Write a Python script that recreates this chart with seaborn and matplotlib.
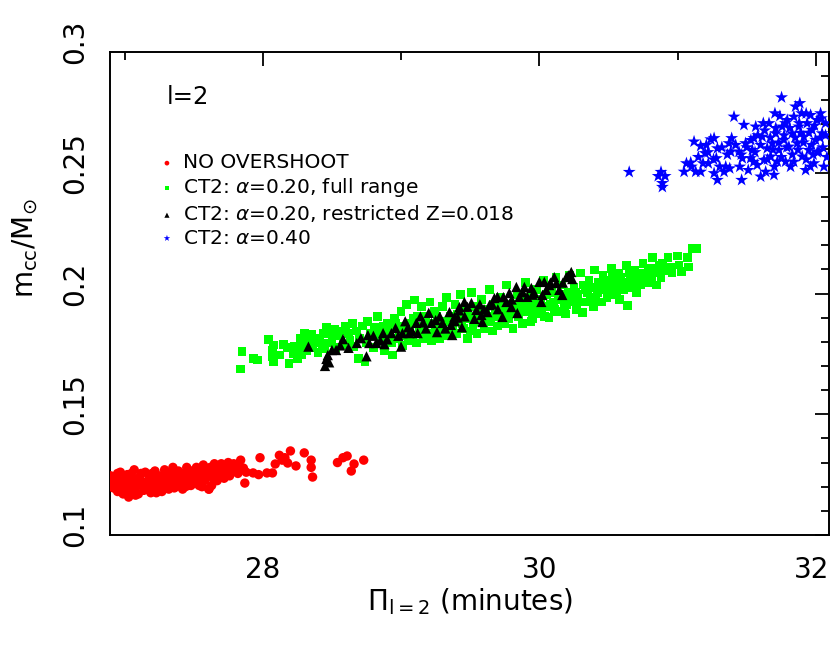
import matplotlib
matplotlib.use("Agg")
import matplotlib.pyplot as plt
import matplotlib.transforms as mtransforms
from matplotlib.ticker import MultipleLocator, FixedLocator
import seaborn as sns
import pandas as pd

# ---------------- data ----------------
red_x = [26.91, 26.92, 26.93, 26.94, 26.95, 26.96, 26.97, 26.98, 26.99, 27.00, 27.01, 27.02, 27.03, 27.04,
         27.05, 27.06, 27.07, 27.08, 27.09, 27.10, 27.11, 27.12, 27.13, 27.14, 27.15, 27.16, 27.17, 27.18,
         27.19, 27.20, 27.21, 27.22, 27.23, 27.24, 27.25, 27.26, 27.27, 27.28, 27.29, 27.30, 27.31, 27.32,
         27.33, 27.34, 27.35, 27.36, 27.37, 27.38, 27.39, 27.40, 27.41, 27.42, 27.43, 27.44, 27.45, 27.46,
         27.47, 27.48, 27.49, 27.50, 27.51, 27.52, 27.53, 27.54, 27.55, 27.56, 27.57, 27.58, 27.59, 27.60,
         27.61, 27.62, 27.63, 27.64, 27.65, 27.66, 27.67, 27.68, 27.69, 27.70, 27.71, 27.72, 27.73, 27.74,
         27.75, 27.76, 27.77, 27.78, 27.80, 27.82, 27.84, 27.86, 27.87, 27.88, 27.93, 27.97, 27.98, 28.03,
         28.07, 28.09, 28.12, 28.14, 28.16, 28.18, 28.20, 28.24, 28.30, 28.35, 28.35, 28.36, 28.54, 28.58,
         28.61, 28.64, 28.66, 28.73,
         26.90, 26.95, 27.00, 27.02, 27.05, 27.08, 27.10, 27.12, 27.15, 27.18, 27.20, 27.23, 27.25, 27.28,
         27.30, 27.33, 27.36, 27.38, 27.40, 27.43, 27.46, 27.48, 27.50, 27.53, 27.55, 27.58, 27.60, 27.63,
         27.66, 27.70, 27.72, 27.75, 27.79, 27.81, 27.44, 27.56, 27.61]
red_y = [0.1220, 0.1195, 0.1240, 0.1210, 0.1180, 0.1225, 0.1260, 0.1205, 0.1170, 0.1230, 0.1195, 0.1250, 0.1157, 0.1210,
         0.1185, 0.1235, 0.1270, 0.1200, 0.1225, 0.1170, 0.1240, 0.1205, 0.1220, 0.1185, 0.1260, 0.1215, 0.1195, 0.1240,
         0.1175, 0.1225, 0.1205, 0.1265, 0.1235, 0.1190, 0.1215, 0.1245, 0.1180, 0.1225, 0.1270, 0.1205, 0.1235, 0.1190,
         0.1250, 0.1215, 0.1280, 0.1225, 0.1200, 0.1245, 0.1265, 0.1215, 0.1235, 0.1190, 0.1255, 0.1225, 0.1280, 0.1205,
         0.1245, 0.1265, 0.1230, 0.1215, 0.1250, 0.1280, 0.1235, 0.1205, 0.1260, 0.1245, 0.1290, 0.1225, 0.1265, 0.1245,
         0.1190, 0.1280, 0.1255, 0.1235, 0.1295, 0.1265, 0.1225, 0.1275, 0.1245, 0.1295, 0.1260, 0.1235, 0.1285, 0.1265,
         0.1300, 0.1245, 0.1280, 0.1265, 0.1275, 0.1255, 0.1310, 0.1277, 0.1215, 0.1260, 0.1257, 0.1250, 0.1320, 0.1257,
         0.1257, 0.1294, 0.1330, 0.1310, 0.1320, 0.1298, 0.1348, 0.1286, 0.1340, 0.1310, 0.1280, 0.1240, 0.1300, 0.1320,
         0.1327, 0.1265, 0.1294, 0.1310,
         0.1245, 0.1255, 0.1205, 0.1175, 0.1255, 0.1165, 0.1215, 0.1255, 0.1195, 0.1215, 0.1255, 0.1175, 0.1240, 0.1200,
         0.1260, 0.1225, 0.1195, 0.1220, 0.1255, 0.1215, 0.1265, 0.1205, 0.1245, 0.1275, 0.1225, 0.1255, 0.1275, 0.1205,
         0.1235, 0.1255, 0.1280, 0.1270, 0.1295, 0.1285, 0.1200, 0.1200, 0.1190]

green_x = [27.84, 27.85, 27.93, 27.96, 28.04, 28.08, 28.07, 28.07, 28.08, 28.18, 28.23, 28.25, 28.22, 28.19,
           28.29, 28.35, 28.41, 28.43, 28.45, 28.46, 28.49, 28.52, 28.32, 28.38, 28.40, 28.28, 28.55, 28.57,
           28.58, 28.60, 28.62, 28.63, 28.65, 28.66, 28.68, 28.69, 28.70, 28.72, 28.74, 28.75, 28.76, 28.78,
           28.80, 28.81, 28.83, 28.85, 28.86, 28.88, 28.90, 28.91, 28.93, 28.94, 28.95, 28.97, 28.98, 29.00,
           29.01, 29.03, 29.04, 29.05, 29.07, 29.08, 29.10, 29.11, 29.12, 29.13, 29.15, 29.16, 29.18, 29.19,
           29.21, 29.22, 29.24, 29.25, 29.27, 29.28, 29.30, 29.31, 29.33, 29.34, 29.36, 29.37, 29.39, 29.40,
           29.42, 29.43, 29.45, 29.46, 29.48, 29.49, 29.51, 29.52, 29.54, 29.55, 29.57, 29.58, 29.60, 29.61,
           29.63, 29.64, 29.66, 29.67, 29.69, 29.70, 29.72, 29.73, 29.75, 29.76, 29.78, 29.79, 29.81, 29.82,
           29.84, 29.85, 29.87, 29.88, 29.90, 29.91, 29.93, 29.94, 29.95, 29.97, 29.98, 30.00, 30.01, 30.03,
           30.04, 30.06, 30.07, 30.09, 30.10, 30.12, 30.13, 30.15, 30.16, 30.18, 30.19, 30.21, 30.22, 30.24,
           30.25, 30.27, 30.28, 30.30, 30.31, 30.33, 30.34, 30.36, 30.37, 30.39, 30.40, 30.42, 30.43, 30.45,
           30.46, 30.48, 30.49, 30.51, 30.52, 30.54, 30.55, 30.57, 30.58, 30.60, 30.61, 30.63, 30.64, 30.66,
           30.67, 30.69, 30.70, 30.72, 30.73, 30.75, 30.76, 30.78, 30.79, 30.81, 30.82, 30.84, 30.85, 30.87,
           30.88, 30.90, 30.93, 30.95, 30.96, 31.01, 31.03, 31.07, 31.08, 31.11, 31.14,
           28.84, 28.87, 28.92, 28.96, 28.99, 29.02, 29.06, 29.09, 29.14, 29.17, 29.20, 29.23, 29.26, 29.29,
           29.32, 29.35, 29.38, 29.41, 29.44, 29.47, 29.50, 29.53, 29.56, 29.59, 29.62, 29.65, 29.68, 29.71,
           29.74, 29.77, 29.80, 29.83, 29.86, 29.89, 29.92, 29.96, 29.99, 30.02, 30.05, 30.08, 30.11, 30.14,
           30.17, 30.20, 30.23, 30.26, 30.29, 30.32, 30.35, 30.38, 30.41, 30.44, 30.47, 30.50, 30.53, 30.56,
           30.59, 30.62, 30.65, 30.68, 30.71, 30.74, 30.77, 30.80, 30.83, 30.86, 30.89, 30.92, 31.00,
           28.12, 28.15, 28.27, 28.30, 28.33, 28.36, 28.44, 28.47, 28.50, 28.53]
green_y = [0.1687, 0.1760, 0.1730, 0.1725, 0.1810, 0.1787, 0.1766, 0.1737, 0.1720, 0.1778, 0.1780, 0.1730, 0.1750, 0.1710,
           0.1780, 0.1830, 0.1816, 0.1790, 0.1770, 0.1860, 0.1849, 0.1853, 0.1765, 0.1795, 0.1755, 0.1745, 0.1825, 0.1845,
           0.1790, 0.1865, 0.1835, 0.1805, 0.1875, 0.1782, 0.1845, 0.1730, 0.1815, 0.1865, 0.1716, 0.1795, 0.1885, 0.1835,
           0.1775, 0.1860, 0.1905, 0.1805, 0.1845, 0.1765, 0.1875, 0.1825, 0.1795, 0.1745, 0.1895, 0.1815, 0.1855, 0.1925,
           0.1785, 0.1835, 0.1955, 0.1805, 0.1875, 0.1825, 0.1973, 0.1795, 0.1905, 0.1845, 0.1945, 0.1815, 0.1885, 0.1835,
           0.1965, 0.1805, 0.1925, 0.1855, 0.1875, 0.1815, 0.1945, 0.1845, 0.1985, 0.1825, 0.1905, 0.1865, 0.1955, 0.1835,
           0.1885, 0.1995, 0.1855, 0.1925, 0.1815, 0.1895, 0.2005, 0.1865, 0.1945, 0.1835, 0.1905, 0.1975, 0.1855, 0.1925,
           0.1885, 0.2015, 0.1845, 0.1955, 0.1905, 0.1865, 0.1985, 0.1925, 0.1875, 0.2035, 0.1895, 0.1955, 0.1855, 0.1935,
           0.1995, 0.1905, 0.1965, 0.1875, 0.2045, 0.1925, 0.1985, 0.1885, 0.1895, 0.1955, 0.2015, 0.1915, 0.1975, 0.2055,
           0.1905, 0.1945, 0.1900, 0.2005, 0.1965, 0.2065, 0.1925, 0.1985, 0.2035, 0.1945, 0.1915, 0.2005, 0.2075, 0.1965,
           0.2025, 0.1935, 0.1995, 0.2085, 0.1920, 0.2015, 0.1965, 0.2055, 0.1985, 0.1945, 0.2097, 0.2005, 0.2045, 0.1965,
           0.2075, 0.2015, 0.1985, 0.2055, 0.2105, 0.1995, 0.2035, 0.2085, 0.1975, 0.2045, 0.2015, 0.2115, 0.1950, 0.2065,
           0.2025, 0.2095, 0.2005, 0.2055, 0.2035, 0.2125, 0.2075, 0.2045, 0.2105, 0.2065, 0.2150, 0.2085, 0.2035, 0.2115,
           0.2065, 0.2095, 0.2150, 0.2110, 0.2085, 0.2118, 0.2090, 0.2150, 0.2110, 0.2185, 0.2185,
           0.1835, 0.1865, 0.1845, 0.1875, 0.1825, 0.1865, 0.1845, 0.1895, 0.1865, 0.1905, 0.1875, 0.1835, 0.1905, 0.1875,
           0.1885, 0.1845, 0.1895, 0.1915, 0.1875, 0.1905, 0.1845, 0.1905, 0.1885, 0.1935, 0.1905, 0.1885, 0.1925, 0.1945,
           0.1895, 0.1935, 0.1915, 0.1955, 0.1935, 0.1975, 0.1955, 0.1925, 0.1965, 0.1935, 0.1995, 0.1955, 0.1935, 0.1975,
           0.1995, 0.1955, 0.1985, 0.2005, 0.1965, 0.2035, 0.2005, 0.2025, 0.1985, 0.2025, 0.2045, 0.2015, 0.2065, 0.2005,
           0.2065, 0.2035, 0.2085, 0.2045, 0.2075, 0.2085, 0.2055, 0.2085, 0.2105, 0.2085, 0.2125, 0.2095, 0.2155,
           0.1745, 0.1790, 0.1815, 0.1835, 0.1805, 0.1775, 0.1835, 0.1795, 0.1815, 0.1775]

black_x = [28.33, 28.45, 28.46, 28.47, 28.48, 28.50, 28.53, 28.58, 28.68, 28.75, 28.76, 28.77, 28.82, 28.87,
           28.88, 28.90, 28.93, 28.96, 29.00, 29.01, 29.05, 29.06, 29.11, 29.12, 29.16, 29.20, 29.22, 29.25,
           29.26, 29.30, 29.35, 29.36, 29.37, 29.41, 29.42, 29.44,
           29.386, 29.422, 29.458, 29.509, 29.545, 29.581, 29.588, 29.624, 29.639, 29.675, 29.697, 29.733,
           29.762, 29.783, 29.798, 29.834, 29.841, 29.856, 29.892, 29.913, 29.942, 29.964, 30.000, 30.014,
           30.022, 30.036, 30.072, 30.108, 30.123, 30.144, 30.166, 30.195, 30.231, 30.238,
           28.98, 29.03, 29.08, 29.14, 29.18, 29.28, 29.32, 29.39, 29.46, 29.48, 29.53, 29.57, 29.60, 29.66,
           29.70, 29.74, 29.80, 29.88, 29.95, 30.05, 30.08, 30.17, 30.21, 28.56, 28.62, 28.71, 28.80, 28.85]
black_y = [0.1780, 0.1700, 0.1729, 0.1745, 0.1715, 0.1766, 0.1766, 0.1811, 0.1795, 0.1740, 0.1828, 0.1795, 0.1795, 0.1836,
           0.1790, 0.1810, 0.1836, 0.1857, 0.1780, 0.1836, 0.1860, 0.1836, 0.1878, 0.1836, 0.1880, 0.1920, 0.1878, 0.1890,
           0.1840, 0.1878, 0.1923, 0.1870, 0.1828, 0.1900, 0.1930, 0.1860,
           0.1903, 0.1944, 0.1965, 0.1961, 0.1932, 0.1911, 0.1882, 0.1923, 0.1952, 0.1981, 0.1986, 0.1903,
           0.1965, 0.2002, 0.1944, 0.2027, 0.1919, 0.1986, 0.2027, 0.1986, 0.2023, 0.2002, 0.2048, 0.1965,
           0.1994, 0.2048, 0.2035, 0.2068, 0.2043, 0.2015, 0.1994, 0.2068, 0.2089, 0.2060,
           0.1825, 0.1885, 0.1845, 0.1905, 0.1855, 0.1905, 0.1855, 0.1885, 0.1905, 0.1945, 0.1895, 0.1955, 0.1935, 0.1955,
           0.1935, 0.1985, 0.1975, 0.2005, 0.1995, 0.2015, 0.2045, 0.2045, 0.2075, 0.1785, 0.1775, 0.1815, 0.1825, 0.1805]

blue_x = [30.65, 30.88, 30.86, 30.91, 30.89, 30.89,
          31.047, 31.064, 31.095, 31.131, 31.167, 31.184, 31.222, 31.119, 31.167, 31.199, 31.208, 31.240,
          31.264, 31.288, 31.280, 31.305, 31.288, 31.264, 31.336, 31.348, 31.377, 31.384, 31.372, 31.391,
          31.408, 31.444, 31.463, 31.468, 31.480, 31.492, 31.511, 31.528, 31.540, 31.552, 31.565, 31.576,
          31.601, 31.612, 31.625, 31.637, 31.648, 31.661, 31.673, 31.685, 31.697, 31.704, 31.709, 31.721,
          31.733, 31.752, 31.757, 31.769, 31.781, 31.793, 31.805, 31.817, 31.829, 31.841, 31.853, 31.865,
          31.877, 31.884, 31.897, 31.901, 31.913, 31.926, 31.937, 31.949, 31.962, 31.973, 31.986, 31.998,
          32.009, 32.022, 32.034, 32.045, 32.058, 32.070,
          31.42, 31.46, 31.50, 31.53, 31.56, 31.58, 31.60, 31.63, 31.65, 31.67, 31.69, 31.71, 31.73, 31.75,
          31.77, 31.79, 31.81, 31.83, 31.85, 31.87, 31.89, 31.91, 31.93, 31.95, 31.97, 31.99, 32.01, 32.03,
          32.05, 32.07, 32.08, 31.36, 31.32, 31.26, 31.22, 31.15, 31.10, 31.70, 31.84, 31.96, 32.04, 31.88,
          31.78, 31.62, 31.55, 31.45, 31.93, 31.74, 31.98]
blue_y = [0.2503, 0.2503, 0.2486, 0.2486, 0.2457, 0.2441,
          0.2504, 0.2539, 0.2542, 0.2504, 0.2504, 0.2539, 0.2539, 0.2629, 0.2611, 0.2581, 0.2615, 0.2638,
          0.2643, 0.2601, 0.2560, 0.2525, 0.2470, 0.2498, 0.2504, 0.2525, 0.2518, 0.2587, 0.2622, 0.2643,
          0.2732, 0.2587, 0.2470, 0.2560, 0.2698, 0.2622, 0.2511, 0.2560, 0.2594, 0.2643, 0.2691, 0.2532,
          0.2484, 0.2649, 0.2553, 0.2504, 0.2601, 0.2705, 0.2567, 0.2622, 0.2491, 0.2746, 0.2663, 0.2546,
          0.2594, 0.2812, 0.2691, 0.2636, 0.2546, 0.2718, 0.2608, 0.2525, 0.2663, 0.2732, 0.2774, 0.2622,
          0.2691, 0.2788, 0.2746, 0.2567, 0.2649, 0.2511, 0.2705, 0.2594, 0.2739, 0.2677, 0.2539, 0.2636,
          0.2718, 0.2587, 0.2746, 0.2663, 0.2525, 0.2705,
          0.2615, 0.2575, 0.2605, 0.2635, 0.2585, 0.2655, 0.2615, 0.2675, 0.2555, 0.2645, 0.2595, 0.2685, 0.2625, 0.2565,
          0.2655, 0.2605, 0.2685, 0.2575, 0.2645, 0.2595, 0.2665, 0.2625, 0.2555, 0.2665, 0.2615, 0.2695, 0.2585, 0.2645,
          0.2605, 0.2655, 0.2565, 0.2575, 0.2605, 0.2555, 0.2585, 0.2565, 0.2525, 0.2525, 0.2545, 0.2525, 0.2725, 0.2705,
          0.2705, 0.2705, 0.2545, 0.2525, 0.2745, 0.2735, 0.2575]

series_labels = ["NO OVERSHOOT",
                 r"CT2: $\alpha$=0.20, full range",
                 r"CT2: $\alpha$=0.20, restricted Z=0.018",
                 r"CT2: $\alpha$=0.40"]
x_major = [28, 30, 32]
x_minor = [27, 29, 31]

# ---------------- figure ----------------
sns.set_style("white")
plt.rcParams["font.family"] = ["DejaVu Sans"]
plt.rcParams["mathtext.fontset"] = "dejavusans"
for key in ["text.color", "axes.labelcolor", "xtick.color", "ytick.color", "xtick.labelcolor", "ytick.labelcolor"]:
    plt.rcParams[key] = "black"

fig = plt.figure(figsize=(8.31, 6.46), dpi=100)
ax = fig.add_axes([110 / 831, 1 - 535 / 646, (829 - 110) / 831, (535 - 52) / 646])

specs = [
    (red_x, red_y, "#ff0000", "o", 46, series_labels[0]),
    (green_x, green_y, "#00ff00", "s", 40, series_labels[1]),
    (black_x, black_y, "#000000", "^", 55, series_labels[2]),
    (blue_x, blue_y, "#0000ff", "*", 95, series_labels[3]),
]
for xs, ys, col, mk, sz, lab in specs:
    df = pd.DataFrame({"x": xs, "y": ys})
    sns.scatterplot(data=df, x="x", y="y", color=col, marker=mk, s=sz,
                    linewidth=0, edgecolor="none", label=lab, ax=ax, zorder=3)

ax.set_xlim(26.895, 32.095)
ax.set_ylim(0.1, 0.3)

ax.xaxis.set_major_locator(FixedLocator(x_major))
ax.xaxis.set_minor_locator(FixedLocator(x_minor))
ax.yaxis.set_minor_locator(MultipleLocator(0.01))
ax.set_yticks([0.1, 0.15, 0.2, 0.25, 0.3])
ax.set_yticklabels(["0.1", "0.15", "0.2", "0.25", "0.3"])

ax.tick_params(which="both", direction="in", top=True, right=True, width=1.3, color="black",
               labelcolor="black")
ax.tick_params(which="major", length=10, labelsize=20, pad=15)
ax.tick_params(which="minor", length=5.8)
for sp in ax.spines.values():
    sp.set_linewidth(1.4)
    sp.set_color("black")

offset = mtransforms.ScaledTranslation(0, 10 / 100, fig.dpi_scale_trans)
for lab in ax.get_yticklabels():
    lab.set_rotation(90)
    lab.set_va("center")
    lab.set_transform(lab.get_transform() + offset)

# keep the last x tick label inside the figure
xlabs = ax.get_xticklabels()
shift = mtransforms.ScaledTranslation(-4 / 100, 0, fig.dpi_scale_trans)
xlabs[-1].set_transform(xlabs[-1].get_transform() + shift)

ax.set_xlabel(r"$\Pi_{\mathrm{l=2}}$ (minutes)", fontsize=20, color="black")
ax.xaxis.set_label_coords(0.5, -0.105)
ax.set_ylabel(r"$\mathrm{m_{cc}/M_{\odot}}$", fontsize=20, color="black")
ax.yaxis.set_label_coords(-0.097, 0.594)

ax.text(0.079, 0.893, "l=2", transform=ax.transAxes, fontsize=17.5, ha="left", va="baseline",
        color="black")

leg = ax.legend(loc="upper left", bbox_to_anchor=(0.068, 0.79), frameon=False, fontsize=14.5,
                borderpad=0, borderaxespad=0, handlelength=0.8, handletextpad=0.4,
                labelspacing=0.2, markerscale=0.5)
for t in leg.get_texts():
    t.set_color("black")

fig.savefig("out.png", dpi=100)
